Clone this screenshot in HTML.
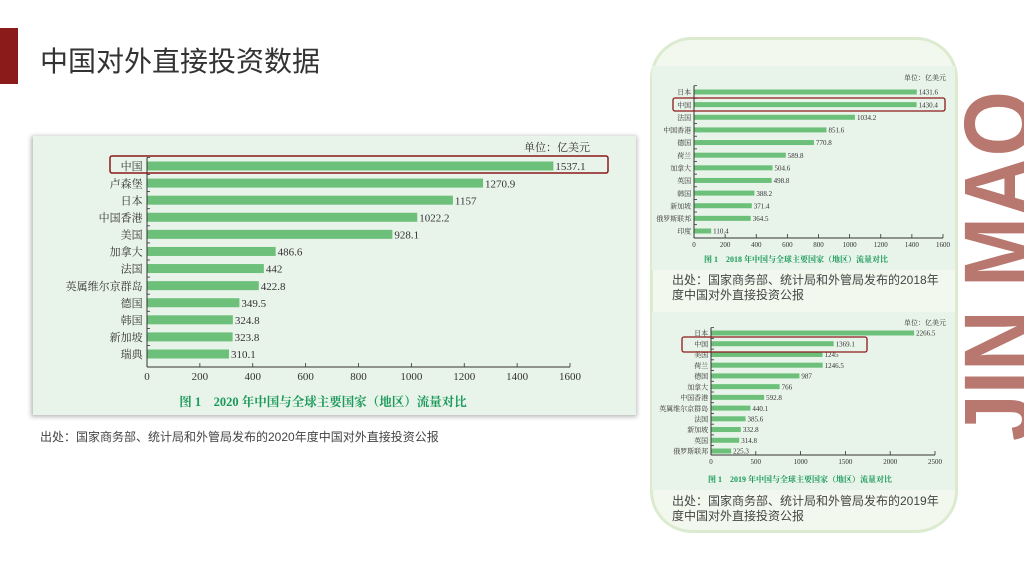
<!DOCTYPE html>
<html><head><meta charset="utf-8">
<style>
html,body{margin:0;padding:0;background:#fff;}
body{width:1024px;height:576px;position:relative;overflow:hidden;font-family:"Liberation Sans","Noto Sans CJK SC",sans-serif;}
.abs{position:absolute;}
</style></head>
<body>
<div class="abs" style="left:0;top:28px;width:18px;height:56px;background:#8b1a1a;"></div>
<div class="abs" style="left:40px;top:44px;font-size:28px;color:#333;line-height:36px;">中国对外直接投资数据</div>

<div class="abs" style="left:650px;top:37px;width:308px;height:496px;border-radius:42px;background:#f3f8ee;border:3px solid #dcebd0;box-sizing:border-box;"></div>

<svg class="abs" style="left:0;top:0" width="1024" height="576">
  <defs><filter id="sh" x="-5%" y="-5%" width="110%" height="110%"><feGaussianBlur stdDeviation="2"/></filter></defs>
  <rect x="31" y="136" width="606" height="281" fill="#bbb" filter="url(#sh)"/>
  <rect x="33" y="136" width="603" height="279" fill="#e8f3e9"/>
  <rect x="652" y="66" width="303" height="204" fill="#e8f3e9"/>
  <rect x="652" y="312" width="303" height="178" fill="#e8f3e9"/>
  <g id="c2020"></g><g id="c2018"></g><g id="c2019"></g>
  <text transform="translate(1032,441) rotate(-90)" font-family="Liberation Sans" font-weight="bold" font-size="97" fill="#b8786f" textLength="350" lengthAdjust="spacingAndGlyphs">JIN MAO</text>
</svg>

<div class="abs" style="left:40px;top:428px;font-size:12px;color:#444;">出处：国家商务部、统计局和外管局发布的2020年度中国对外直接投资公报</div>
<div class="abs" style="left:672px;top:273px;font-size:12px;color:#444;line-height:15px;">出处：国家商务部、统计局和外管局发布的2018年<br>度中国对外直接投资公报</div>
<div class="abs" style="left:672px;top:494px;font-size:12px;color:#444;line-height:15px;">出处：国家商务部、统计局和外管局发布的2019年<br>度中国对外直接投资公报</div>

<script>
const cats2020 = ["中国","卢森堡","日本","中国香港","美国","加拿大","法国","英属维尔京群岛","德国","韩国","新加坡","瑞典"];
const vals2020 = [1537.1,1270.9,1157,1022.2,928.1,486.6,442,422.8,349.5,324.8,323.8,310.1];
const ticks2020 = [0,200,400,600,800,1000,1200,1400,1600];

const cats2018 = ["日本","中国","法国","中国香港","德国","荷兰","加拿大","英国","韩国","新加坡","俄罗斯联邦","印度"];
const vals2018 = [1431.6,1430.4,1034.2,851.6,770.8,589.8,504.6,498.8,388.2,371.4,364.5,110.4];
const ticks2018 = [0,200,400,600,800,1000,1200,1400,1600];

const cats2019 = ["日本","中国","美国","荷兰","德国","加拿大","中国香港","英属维尔京群岛","法国","新加坡","英国","俄罗斯联邦"];
const vals2019 = [2266.5,1369.1,1245,1246.5,987,766,592.8,440.1,385.6,332.8,314.8,225.3];
const ticks2019 = [0,500,1000,1500,2000,2500];

const NS="http://www.w3.org/2000/svg";
function mk(parent,tag,attrs,text){const e=document.createElementNS(NS,tag);for(const k in attrs)e.setAttribute(k,attrs[k]);if(text!==undefined)e.textContent=text;parent.appendChild(e);return e;}

function drawChart(g,cats,vals,ticks,o){
  const max=ticks[ticks.length-1];
  const x=v=>o.x0+(o.x1-o.x0)*v/max;
  const step=(o.yLast-o.yFirst)/(cats.length-1);
  const y=i=>o.yFirst+i*step;
  const font='"Liberation Serif","Noto Serif CJK SC",serif';
  cats.forEach((c,i)=>{
    const b=mk(g,'rect',{x:x(0),y:y(i)-o.bh/2,width:x(vals[i])-x(0),height:o.bh,fill:'#6cc07a'});
    
    
    const l=mk(g,'text',{x:o.x0-o.fs*0.4,y:y(i)+o.fs*0.38,'text-anchor':'end','font-size':o.fs,fill:'#333','font-family':font},c);
    
    
    const v=mk(g,'text',{x:x(vals[i])+2,y:y(i)+o.fs*0.38,'font-size':o.fs,fill:'#333','font-family':font},String(vals[i]));
    
    
    mk(g,'line',{x1:o.x0,x2:o.x0+3,y1:y(i)-step/2,y2:y(i)-step/2,stroke:'#333','stroke-width':0.8});
  });
  const axY=o.axisY;
  mk(g,'line',{x1:o.x0,x2:o.x0,y1:o.yFirst-step/2,y2:axY,stroke:'#333','stroke-width':1});
  mk(g,'line',{x1:o.x0,x2:o.x1,y1:axY,y2:axY,stroke:'#333','stroke-width':1});
  ticks.forEach(t=>{
    mk(g,'line',{x1:x(t),x2:x(t),y1:axY,y2:axY-4,stroke:'#333','stroke-width':0.8});
    const tl=mk(g,'text',{x:x(t),y:axY+o.fs+2,'text-anchor':'middle','font-size':o.fs,fill:'#333','font-family':font},String(t));
    
    
  });
  const u=mk(g,'text',{x:o.unitX,y:o.unitY,'text-anchor':'end','font-size':o.fs,fill:'#333','font-family':font},'单位：亿美元');
  
  
  const h=mk(g,'rect',{x:o.hx,y:o.hy,width:o.hw,height:o.hh,rx:2,fill:'none',stroke:'#8b1a1a','stroke-width':o.hs});
  
  
  const t=mk(g,'text',{x:o.tx,y:o.ty,'text-anchor':'middle','font-size':o.tfs,fill:'#1a9a5a','font-weight':'bold','font-family':font},o.title);
  
  
}

drawChart(document.getElementById('c2020'),cats2020,vals2020,ticks2020,{id:'2020',x0:147,x1:570,yFirst:166,yLast:354,bh:9,fs:11,axisY:367,unitX:590,unitY:151,hx:110,hy:156,hw:498,hh:17,hs:1.5,tx:323,ty:406,tfs:12.5,title:'图 1　2020 年中国与全球主要国家（地区）流量对比'});
drawChart(document.getElementById('c2018'),cats2018,vals2018,ticks2018,{id:'2018',x0:694,x1:943,yFirst:92,yLast:231,bh:5,fs:7,axisY:238,unitX:946,unitY:80,hx:673,hy:98,hw:272,hh:13,hs:1.3,tx:796,ty:262,tfs:8,title:'图 1　2018 年中国与全球主要国家（地区）流量对比'});
drawChart(document.getElementById('c2019'),cats2019,vals2019,ticks2019,{id:'2019',x0:711,x1:935,yFirst:333,yLast:451,bh:5,fs:7,axisY:455,unitX:946,unitY:325,hx:682,hy:337,hw:185,hh:15,hs:1.3,tx:800,ty:482,tfs:8,title:'图 1　2019 年中国与全球主要国家（地区）流量对比'});
</script>
</body></html>
